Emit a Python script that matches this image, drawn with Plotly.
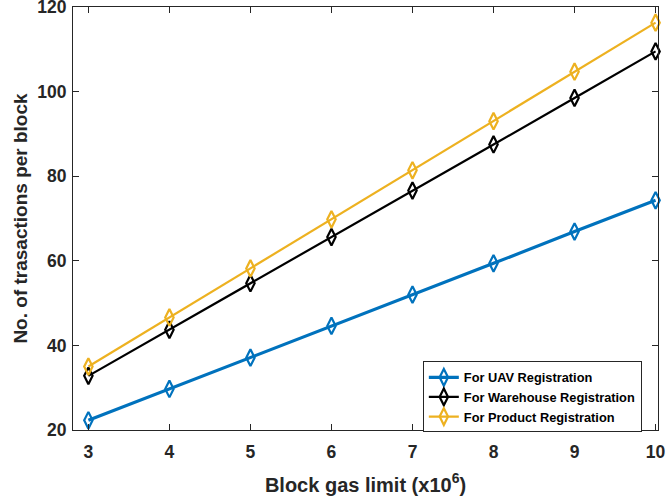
import plotly.graph_objects as go

x_vals = [3, 4, 5, 6, 7, 8, 9, 10]
uav = [22.3, 29.7, 37.1, 44.6, 52.0, 59.4, 66.9, 74.3]
warehouse = [32.8, 43.7, 54.7, 65.6, 76.6, 87.5, 98.5, 109.5]
product = [35.0, 46.6, 58.2, 69.8, 81.4, 93.0, 104.7, 116.3]
names = ["For UAV Registration", "For Warehouse Registration", "For Product Registration"]
colors = ["#0072BD", "#000000", "#EDB120"]
widths = [3.2, 2.2, 2.2]

fig = go.Figure()
for ys, nm, c, w in zip([uav, warehouse, product], names, colors, widths):
    fig.add_trace(go.Scatter(
        x=x_vals, y=ys, name=nm, mode="lines+markers",
        line=dict(color=c, width=w),
        marker=dict(symbol="diamond-tall-open", size=12, color=c, line=dict(width=2.2, color=c)),
        cliponaxis=False,
    ))

font_fam = "Liberation Sans, Arial, sans-serif"
axis_common = dict(
    showgrid=False, zeroline=False, showline=True, linecolor="#262626", linewidth=1,
    mirror="ticks", ticks="inside", ticklen=6, tickcolor="#262626",
    tickfont=dict(family=font_fam, size=17.5, color="#262626", weight="bold"),
    automargin=False, ticklabeloverflow="allow",
)
fig.update_layout(
    width=668, height=503,
    margin=dict(l=73, r=10, t=7, b=73, autoexpand=False),
    paper_bgcolor="white", plot_bgcolor="white",
    font=dict(family=font_fam, color="#262626"),
    xaxis=dict(range=[2.81, 10.03], tickvals=x_vals, ticklabelstandoff=6, **axis_common,
               title=dict(text="<b>Block gas limit (x10<sup>6</sup>)</b>",
                          font=dict(family=font_fam, size=20, color="#262626"), standoff=16)),
    yaxis=dict(range=[20, 120], tickvals=[20, 40, 60, 80, 100, 120], ticklabelstandoff=2, **axis_common,
               title=dict(text="<b>No. of trasactions per block</b>",
                          font=dict(family=font_fam, size=19, color="#262626"), standoff=4)),
    legend=dict(x=0.598, y=0.162, xanchor="left", yanchor="top",
                bgcolor="white", bordercolor="#262626", borderwidth=1,
                font=dict(family=font_fam, size=12.8, color="#000000", weight="bold"),
                tracegroupgap=0, itemwidth=30),
    showlegend=True,
)
fig.write_html("out.html", config={"displayModeBar": False},
               post_script="document.body.style.margin='0';document.body.style.overflow='hidden';")
